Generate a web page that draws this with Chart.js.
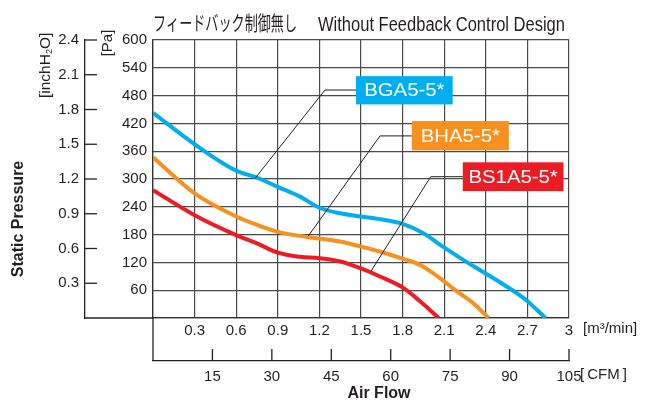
<!DOCTYPE html>
<html>
<head>
<meta charset="utf-8">
<script src="https://cdn.jsdelivr.net/npm/chart.js@4"></script>
<style>
  body { margin: 0; background: #fff; }
  canvas { display: block; }
</style>
</head>
<body>
<canvas id="pq-chart" width="646" height="403"></canvas>
<script>
// P-Q curves (m3/min vs Pa)
const seriesLabels = ["BGA5-5*", "BHA5-5*", "BS1A5-5*"];
const seriesColors = ["#00aeef", "#f7901e", "#ed1c24"];

const bgaFlow = [0, 0.3, 0.6, 0.75, 0.9, 1.06, 1.2, 1.35, 1.5, 1.64, 1.8, 1.95, 2.09, 2.24, 2.4, 2.55, 2.69, 2.83];
const bgaPressure = [443, 375, 318, 303, 283, 262, 238, 226, 219, 213, 203, 183, 154, 125, 96, 68, 39, 0];

const bhaFlow = [0, 0.3, 0.6, 0.75, 0.9, 1.11, 1.35, 1.5, 1.64, 1.8, 1.93, 2.07, 2.18, 2.31, 2.42];
const bhaPressure = [347, 269, 219, 201, 186, 175, 165, 154, 143, 128, 114, 86, 60, 32, 0];

const bs1aFlow = [0, 0.3, 0.6, 0.75, 0.9, 1.06, 1.2, 1.35, 1.5, 1.64, 1.8, 1.93, 2.06];
const bs1aPressure = [276, 222, 179, 161, 141, 132, 129, 122, 107, 89, 66, 35, 0];

// axis ranges / tick steps
const flowMax = 3, flowStep = 0.3;       // m3/min
const cfmMax = 105, cfmStep = 15;        // CFM
const paMax = 600, paStep = 60;          // Pa
const inchMax = 2.4, inchStep = 0.3;     // inchH2O

const ink = "#231f20";
const tickFont = { family: "'Liberation Sans', Arial, sans-serif", size: 15 };
const fmt = (v) => (v === 0 ? "" : String(+v.toFixed(1)));

const toPoints = (xs, ys) => xs.map((x, i) => ({ x, y: ys[i] }));

// callouts: box and leader line in axis values (flow, Pa)
const callouts = [
  { box: [1.464, 2.161, 522, 461], knee: [1.24, 492], anchor: [0.735, 301] },
  { box: [1.866, 2.566, 425, 362], knee: [1.637, 393], anchor: [1.12, 177] },
  { box: [2.234, 2.96, 336, 274], knee: [2.003, 305], anchor: [1.572, 101] },
];

const line = (ctx, x1, y1, x2, y2) => {
  ctx.beginPath();
  ctx.moveTo(x1, y1);
  ctx.lineTo(x2, y2);
  ctx.stroke();
};

const fitText = (ctx, text, x, y, width) => {
  const w = ctx.measureText(text).width;
  ctx.save();
  ctx.translate(x, y);
  ctx.scale(width / w, 1);
  ctx.fillText(text, 0, 0);
  ctx.restore();
};

const decor = {
  id: "decor",
  afterDatasetsDraw(chart) {
    const { ctx } = chart;
    const { x, x2, y, y2 } = chart.scales;
    ctx.save();

    // callouts
    ctx.strokeStyle = "#222";
    ctx.lineWidth = 1;
    callouts.forEach((c, i) => {
      const bx1 = x.getPixelForValue(c.box[0]);
      const bx2 = x.getPixelForValue(c.box[1]);
      const by1 = y.getPixelForValue(c.box[2]);
      const by2 = y.getPixelForValue(c.box[3]);
      const kx = x.getPixelForValue(c.knee[0]);
      const ky = y.getPixelForValue(c.knee[1]);
      line(ctx, x.getPixelForValue(c.anchor[0]), y.getPixelForValue(c.anchor[1]), kx, ky);
      line(ctx, kx, ky, bx1, ky);
      ctx.fillStyle = seriesColors[i];
      ctx.fillRect(bx1, by1, bx2 - bx1, by2 - by1);
      ctx.fillStyle = "#fff";
      ctx.font = "18px 'Liberation Sans', Arial, sans-serif";
      ctx.textBaseline = "middle";
      ctx.textAlign = "left";
      const tw = ctx.measureText(seriesLabels[i]).width * 1.13;
      fitText(ctx, seriesLabels[i], (bx1 + bx2) / 2 - tw / 2, (by1 + by2) / 2 + 1, tw);
    });
    ctx.restore();
  },
  afterDraw(chart) {
    const { ctx } = chart;
    const { x, x2, y, y2 } = chart.scales;
    ctx.save();
    ctx.strokeStyle = "#222";
    ctx.lineWidth = 1.3;

    // inch axis: inward ticks and base line
    y2.ticks.forEach((t) => {
      if (t.value > 0) {
        const py = y2.getPixelForValue(t.value);
        line(ctx, y2.right, py, y2.right + 12, py);
      }
    });
    line(ctx, y2.right, x.top, y.right, x.top);

    // CFM axis: left edge and upward ticks
    line(ctx, x.left, x.top, x.left, x2.top);
    x2.ticks.forEach((t) => {
      if (t.value > 0) {
        const px = x2.getPixelForValue(t.value);
        line(ctx, px, x2.top - 12, px, x2.top);
      }
    });

    ctx.fillStyle = ink;
    ctx.textBaseline = "alphabetic";
    ctx.textAlign = "left";

    // title
    ctx.font = "20px 'Noto Sans CJK JP', sans-serif";
    fitText(ctx, "フィードバック制御無し", 153, 31, 144);
    ctx.font = "20px 'Liberation Sans Narrow', 'Liberation Sans', sans-serif";
    fitText(ctx, "Without Feedback Control Design", 318, 31, 247);

    // unit labels
    ctx.font = "15px 'Liberation Sans', Arial, sans-serif";
    ctx.textBaseline = "middle";
    ctx.fillText("[m³/min]", 583, 329);
    ctx.fillText("[\u2009CFM\u2009]", 580, 375);

    // axis titles
    ctx.font = "bold 16px 'Liberation Sans', Arial, sans-serif";
    ctx.textAlign = "center";
    ctx.fillText("Air Flow", 379, 394);

    ctx.save();
    ctx.translate(19, 219);
    ctx.rotate(-Math.PI / 2);
    ctx.fillText("Static Pressure", 0, 0);
    ctx.restore();

    ctx.save();
    ctx.translate(108, 43);
    ctx.rotate(-Math.PI / 2);
    ctx.font = "15px 'Liberation Sans', Arial, sans-serif";
    ctx.fillText("[Pa]", 0, 0);
    ctx.restore();

    ctx.save();
    ctx.translate(46, 98);
    ctx.rotate(-Math.PI / 2);
    ctx.textAlign = "left";
    ctx.font = "15.5px 'Liberation Sans', Arial, sans-serif";
    let cx = 0;
    ctx.fillText("[inchH", cx, 0);
    cx += ctx.measureText("[inchH").width;
    ctx.font = "9px 'Liberation Sans', Arial, sans-serif";
    ctx.fillText("2", cx, 4);
    cx += ctx.measureText("2").width;
    ctx.font = "15.5px 'Liberation Sans', Arial, sans-serif";
    ctx.fillText("O]", cx, 0);
    ctx.restore();

    ctx.restore();
  },
};

window.onload = () => {
  const ctx = document.getElementById("pq-chart");
  new Chart(ctx, {
    type: "line",
    data: {
      datasets: [
        toPoints(bgaFlow, bgaPressure),
        toPoints(bhaFlow, bhaPressure),
        toPoints(bs1aFlow, bs1aPressure),
      ].map((data, i) => ({
        label: seriesLabels[i],
        data,
        borderColor: seriesColors[i],
        borderWidth: 4,
        pointRadius: 0,
        cubicInterpolationMode: "monotone",
        fill: false,
      })),
    },
    options: {
      responsive: false,
      animation: false,
      devicePixelRatio: 1,
      layout: { padding: { top: 40, right: 77, left: 0, bottom: 0 } },
      plugins: { legend: { display: false }, tooltip: { enabled: false } },
      scales: {
        x: {
          type: "linear",
          position: "bottom",
          weight: 0,
          min: 0,
          max: flowMax,
          ticks: { stepSize: flowStep, padding: 4, autoSkip: false, maxRotation: 0, color: ink, font: tickFont, callback: fmt },
          grid: { color: "#4a4a4a", lineWidth: 1.2, drawTicks: false },
          border: { color: "#333", width: 1.3 },
          afterFit: (s) => { s.height = 43; },
        },
        x2: {
          type: "linear",
          position: "bottom",
          weight: 1,
          min: 0,
          max: cfmMax,
          ticks: { stepSize: cfmStep, padding: 7, autoSkip: false, maxRotation: 0, color: ink, font: tickFont, callback: fmt },
          grid: { drawOnChartArea: false, drawTicks: false },
          border: { color: "#222", width: 1.3 },
          afterFit: (s) => { s.height = 42; },
        },
        y: {
          type: "linear",
          position: "left",
          weight: 0,
          min: 0,
          max: paMax,
          ticks: { stepSize: paStep, padding: 6, color: ink, font: tickFont, callback: fmt },
          grid: { color: "#4a4a4a", lineWidth: 1.2, drawTicks: false },
          border: { color: "#333", width: 1.3 },
          afterFit: (s) => { s.width = 68; },
        },
        y2: {
          type: "linear",
          position: "left",
          weight: 1,
          min: 0,
          max: inchMax,
          ticks: { stepSize: inchStep, padding: 6, color: ink, font: tickFont, callback: fmt },
          grid: { drawOnChartArea: false, drawTicks: false },
          border: { color: "#222", width: 1.3 },
          afterFit: (s) => { s.width = 85; },
        },
      },
    },
    plugins: [decor],
  });
};
</script>
</body>
</html>
